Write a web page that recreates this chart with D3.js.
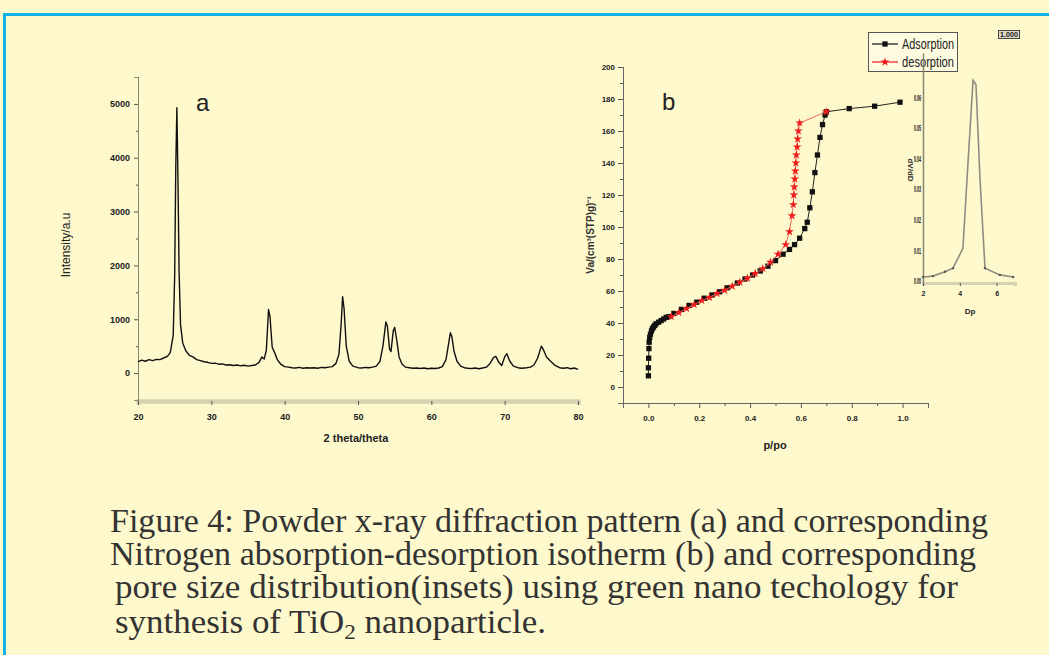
<!DOCTYPE html>
<html>
<head>
<meta charset="utf-8">
<script src="https://cdn.jsdelivr.net/npm/d3@7"></script>
<style>
  body { margin: 0; background: #fef9cc; }
  svg { display: block; }
</style>
</head>
<body>
<script>
// Figure 4: XRD pattern (a), N2 isotherm (b) and pore size inset

// --- data ---
const xrd = [
  [20.0, 210], [20.5, 240], [21.0, 220], [21.5, 250], [22.0, 230], [22.5, 255], [23.0, 250], [23.5, 280],
  [24.0, 310], [24.4, 380], [24.8, 700], [25.0, 1800], [25.15, 3800], [25.3, 4930], [25.45, 3600],
  [25.6, 1900], [25.8, 900], [26.1, 560], [26.5, 420], [27.0, 330], [27.5, 300], [28.0, 250], [28.5, 230],
  [29.0, 210], [29.5, 200], [30.0, 180], [30.5, 185], [31.0, 165], [31.5, 170], [32.0, 150], [32.5, 155],
  [33.0, 140], [33.5, 150], [34.0, 135], [34.5, 145], [35.0, 130], [35.5, 140], [36.0, 150], [36.5, 200],
  [36.9, 300], [37.2, 260], [37.5, 420], [37.8, 1180], [38.0, 1050], [38.3, 480], [38.6, 390], [39.0, 250],
  [39.5, 160], [40.0, 120], [40.5, 110], [41.0, 100], [41.5, 95], [42.0, 105], [42.5, 90], [43.0, 100],
  [43.5, 95], [44.0, 100], [44.5, 90], [45.0, 105], [45.5, 100], [46.0, 110], [46.5, 120], [47.0, 180],
  [47.4, 350], [47.7, 900], [47.9, 1420], [48.1, 1200], [48.4, 500], [48.8, 220], [49.3, 130], [50.0, 100],
  [50.5, 95], [51.0, 105], [51.5, 100], [52.0, 110], [52.5, 130], [53.0, 220], [53.4, 500], [53.8, 950],
  [54.0, 880], [54.3, 450], [54.5, 400], [54.8, 780], [55.0, 850], [55.3, 600], [55.6, 300], [56.0, 170],
  [56.5, 110], [57.0, 100], [57.5, 90], [58.0, 95], [58.5, 85], [59.0, 95], [59.5, 80], [60.0, 90],
  [60.5, 85], [61.0, 95], [61.5, 120], [62.0, 250], [62.3, 500], [62.6, 750], [62.8, 680], [63.1, 400],
  [63.5, 220], [64.0, 130], [64.5, 100], [65.0, 90], [65.5, 85], [66.0, 95], [66.5, 80], [67.0, 95],
  [67.5, 110], [68.0, 180], [68.5, 290], [68.8, 310], [69.2, 200], [69.6, 140], [70.0, 300], [70.3, 360],
  [70.7, 220], [71.2, 130], [71.8, 100], [72.3, 90], [73.0, 100], [73.5, 110], [74.0, 150], [74.5, 280],
  [75.0, 500], [75.3, 430], [75.7, 300], [76.2, 230], [76.8, 150], [77.5, 100], [78.0, 90], [78.5, 100],
  [79.0, 80], [79.5, 95], [80.0, 70]
];

const adsorption = [
  [0.0, 7], [0.0, 12], [0.001, 18], [0.002, 24], [0.003, 28], [0.005, 31], [0.008, 33], [0.012, 35],
  [0.016, 36.5], [0.02, 37.5], [0.025, 38.5], [0.03, 39.5], [0.04, 40.5], [0.05, 41.5], [0.06, 42.5],
  [0.07, 43.5], [0.08, 44], [0.1, 46], [0.13, 48.5], [0.16, 51], [0.19, 53], [0.22, 55.5], [0.25, 57.5],
  [0.28, 59.5], [0.31, 62], [0.35, 65], [0.38, 67.5], [0.41, 70], [0.44, 72.5], [0.47, 75.5], [0.5, 79],
  [0.53, 83], [0.555, 86], [0.575, 89], [0.595, 93], [0.615, 99], [0.625, 103], [0.635, 112], [0.645, 122],
  [0.655, 134], [0.665, 145], [0.675, 156], [0.685, 164], [0.695, 170], [0.7, 172], [0.79, 174],
  [0.89, 175.5], [0.99, 178]
];

const desorption = [
  [0.7, 172], [0.595, 165], [0.59, 160], [0.587, 155], [0.585, 150], [0.582, 145], [0.58, 140],
  [0.578, 135], [0.576, 130], [0.574, 125], [0.572, 120], [0.57, 114], [0.565, 107], [0.555, 97],
  [0.54, 89], [0.51, 83], [0.48, 78], [0.45, 74], [0.42, 71], [0.39, 68], [0.36, 65.5], [0.33, 63],
  [0.3, 60.5], [0.27, 58.5], [0.24, 56], [0.21, 54], [0.18, 51.5], [0.15, 49], [0.12, 46.5], [0.09, 44]
];

const poreSize = [
  [2.0, 0.0013], [2.54, 0.0016], [3.2, 0.003], [3.63, 0.0042], [4.17, 0.0107], [4.45, 0.039],
  [4.72, 0.0655], [4.88, 0.064], [5.1, 0.033], [5.37, 0.0042], [6.18, 0.002], [6.9, 0.0013]
];

const xrdXTicks = [20, 30, 40, 50, 60, 70, 80];
const xrdYTicks = [0, 1000, 2000, 3000, 4000, 5000];
const isoXTicks = [0.0, 0.2, 0.4, 0.6, 0.8, 1.0];
const isoYTicks = [0, 20, 40, 60, 80, 100, 120, 140, 160, 180, 200];
const insetXTicks = [2, 4, 6];
const insetYTicks = [0, 0.01, 0.02, 0.03, 0.04, 0.05, 0.06];
const legendLabels = ["Adsorption", "desorption"];

const caption = [
  "Figure 4: Powder x-ray diffraction pattern (a) and corresponding",
  "Nitrogen absorption-desorption isotherm (b) and corresponding",
  "pore size distribution(insets) using green nano techology for"
];

// --- drawing ---
const W = 1049, H = 655;
const svg = d3.select("body").append("svg").attr("width", W).attr("height", H);

svg.append("rect").attr("width", W).attr("height", H).attr("fill", "#fef9cc");
svg.append("rect")
  .attr("x", 4.5).attr("y", 14.5).attr("width", 1100).attr("height", 700)
  .attr("fill", "none").attr("stroke", "#14b1e7").attr("stroke-width", 3);

const tickFont = "Liberation Sans, Arial, sans-serif";

function styleAxis(g, color, width) {
  g.select(".domain").attr("stroke", color).attr("stroke-width", width);
  g.selectAll(".tick line").attr("stroke", "#555");
  g.selectAll(".tick text")
    .attr("fill", "#222").style("font-family", tickFont)
    .style("font-size", "9px").style("font-weight", "bold");
}

// ---------- panel a: XRD ----------
const xA = d3.scaleLinear().domain([20, 80]).range([138, 578]);
const yA = d3.scaleLinear().domain([-500, 5500]).range([400, 77]);

svg.append("g").attr("transform", "translate(0,401)")
  .call(d3.axisBottom(xA).tickValues(d3.range(25, 80, 10)).tickSize(2).tickFormat(""))
  .call(g => styleAxis(g, "#d6d1b0", 4));
svg.append("g").attr("transform", "translate(0,401)")
  .call(d3.axisBottom(xA).tickValues(xrdXTicks).tickSize(4).tickPadding(9).tickFormat(d3.format("d")))
  .call(g => styleAxis(g, "#d6d1b0", 4));

svg.append("g").attr("transform", "translate(138,0)")
  .call(d3.axisLeft(yA).tickValues(d3.range(-500, 5500, 1000)).tickSize(2).tickFormat(""))
  .call(g => styleAxis(g, "#8a8770", 1));
svg.append("g").attr("transform", "translate(138,0)")
  .call(d3.axisLeft(yA).tickValues(xrdYTicks).tickSize(4).tickPadding(4).tickFormat(d3.format("d")))
  .call(g => styleAxis(g, "#8a8770", 1));

svg.append("path")
  .datum(xrd)
  .attr("fill", "none").attr("stroke", "#111").attr("stroke-width", 1.4)
  .attr("stroke-linejoin", "round")
  .attr("d", d3.line().x(d => xA(d[0])).y(d => yA(d[1])));

svg.append("text").attr("x", 196).attr("y", 111)
  .style("font-family", tickFont).style("font-size", "24px").attr("fill", "#222").text("a");

svg.append("text").attr("x", 356).attr("y", 442).attr("text-anchor", "middle")
  .style("font-family", tickFont).style("font-size", "11px").style("font-weight", "bold")
  .attr("fill", "#222").text("2 theta/theta");

svg.append("text").attr("transform", "translate(70,245) rotate(-90)").attr("text-anchor", "middle")
  .style("font-family", tickFont).style("font-size", "12px")
  .attr("fill", "#222").text("Intensity/a.u");

// ---------- panel b: isotherm ----------
const xB = d3.scaleLinear().domain([-0.1, 1.1]).range([623, 928]);
const yB = d3.scaleLinear().domain([-10, 200]).range([403, 67]);

svg.append("g").attr("transform", "translate(0,403)")
  .call(d3.axisBottom(xB).tickValues(d3.range(-0.1, 1.15, 0.2)).tickSize(3).tickFormat(""))
  .call(g => styleAxis(g, "#666", 1));
svg.append("g").attr("transform", "translate(0,403)")
  .call(d3.axisBottom(xB).tickValues(isoXTicks).tickSize(5).tickPadding(7).tickFormat(d3.format(".1f")))
  .call(g => styleAxis(g, "#666", 1))
  .call(g => g.selectAll(".tick text").style("font-size", "8px"));

svg.append("g").attr("transform", "translate(623,0)")
  .call(d3.axisLeft(yB).tickValues(d3.range(-10, 200, 20)).tickSize(3).tickFormat(""))
  .call(g => styleAxis(g, "#666", 1));
svg.append("g").attr("transform", "translate(623,0)")
  .call(d3.axisLeft(yB).tickValues(isoYTicks).tickSize(5).tickPadding(3))
  .call(g => styleAxis(g, "#666", 1))
  .call(g => g.selectAll(".tick text").style("font-size", "8px"));

const lineB = d3.line().x(d => xB(d[0])).y(d => yB(d[1]));
const star = d3.symbol().type(d3.symbolStar).size(24);
const square = d3.symbol().type(d3.symbolSquare).size(28);

svg.append("path").datum(adsorption)
  .attr("fill", "none").attr("stroke", "#222").attr("stroke-width", 1).attr("d", lineB);
svg.append("g").selectAll("path").data(adsorption).join("path")
  .attr("transform", d => `translate(${xB(d[0])},${yB(d[1])})`)
  .attr("d", square).attr("fill", "#111");

svg.append("path").datum(desorption)
  .attr("fill", "none").attr("stroke", "#ec6a64").attr("stroke-width", 1).attr("d", lineB);
svg.append("g").selectAll("path").data(desorption).join("path")
  .attr("transform", d => `translate(${xB(d[0])},${yB(d[1])})`)
  .attr("d", star).attr("fill", "#ee1c1c");

svg.append("text").attr("x", 662).attr("y", 110)
  .style("font-family", tickFont).style("font-size", "24px").attr("fill", "#222").text("b");

svg.append("text").attr("x", 775).attr("y", 449).attr("text-anchor", "middle")
  .style("font-family", tickFont).style("font-size", "11px").style("font-weight", "bold")
  .attr("fill", "#222").text("p/po");

svg.append("text").attr("transform", "translate(594,235) rotate(-90)").attr("text-anchor", "middle")
  .style("font-family", tickFont).style("font-size", "10px").style("font-weight", "bold")
  .attr("fill", "#333").text("Va/(cm³(STP)g)⁻¹");

// legend
const legend = svg.append("g");
legend.append("rect").attr("x", 868.5).attr("y", 32.5).attr("width", 89).attr("height", 39)
  .attr("fill", "#fffbe0").attr("stroke", "#555");
legendLabels.forEach((label, i) => {
  const y = 44 + i * 18;
  const col = i === 0 ? "#111" : "#ee1c1c";
  legend.append("line").attr("x1", 872).attr("x2", 898).attr("y1", y).attr("y2", y)
    .attr("stroke", col).attr("stroke-width", 1.2);
  legend.append("path").attr("transform", `translate(885,${y})`)
    .attr("d", i === 0 ? square : star).attr("fill", col);
  legend.append("text").attr("x", 902).attr("y", y + 5)
    .attr("textLength", 52).attr("lengthAdjust", "spacingAndGlyphs")
    .style("font-family", tickFont).style("font-size", "14px").attr("fill", "#222").text(label);
});

// ---------- inset: pore size distribution ----------
const xI = d3.scaleLinear().domain([2, 7]).range([923, 1015]);
const yI = d3.scaleLinear().domain([-0.00065, 0.0744]).range([283, 53]);

svg.append("g").attr("transform", "translate(0,283)")
  .call(d3.axisBottom(xI).tickValues([3, 5, 7]).tickSize(2).tickFormat(""))
  .call(g => styleAxis(g, "#d6d1b0", 3));
svg.append("g").attr("transform", "translate(0,283)")
  .call(d3.axisBottom(xI).tickValues(insetXTicks).tickSize(3).tickPadding(5).tickFormat(d3.format("d")))
  .call(g => styleAxis(g, "#d6d1b0", 3))
  .call(g => g.selectAll(".tick text").style("font-size", "7px"));

svg.append("g").attr("transform", "translate(923,0)")
  .call(d3.axisLeft(yI).tickValues(insetYTicks).tickSize(0).tickPadding(2).tickFormat(d3.format(".2f")))
  .call(g => styleAxis(g, "#8a8770", 1.5))
  .call(g => g.selectAll(".tick text")
    .attr("textLength", 7).attr("lengthAdjust", "spacingAndGlyphs")
    .style("font-size", "9px").style("font-weight", "900").attr("fill", "#111"));

svg.append("path").datum(poreSize)
  .attr("fill", "none").attr("stroke", "#8e8c80").attr("stroke-width", 1.6)
  .attr("d", d3.line().x(d => xI(d[0])).y(d => yI(d[1])));
svg.append("g").selectAll("circle").data(poreSize.filter(d => d[1] < 0.005)).join("circle")
  .attr("cx", d => xI(d[0])).attr("cy", d => yI(d[1])).attr("r", 1.2).attr("fill", "#555");

svg.append("text").attr("transform", "translate(908,170) rotate(90)").attr("text-anchor", "middle")
  .style("font-family", tickFont).style("font-size", "8px").style("font-weight", "bold")
  .attr("fill", "#333").text("dV/dD");

svg.append("text").attr("x", 970).attr("y", 314).attr("text-anchor", "middle")
  .style("font-family", tickFont).style("font-size", "8px").style("font-weight", "bold")
  .attr("fill", "#222").text("Dp");

svg.append("rect").attr("x", 998.5).attr("y", 30.5).attr("width", 21).attr("height", 8)
  .attr("fill", "#ddd9c4").attr("stroke", "#444");
svg.append("text").attr("x", 1000).attr("y", 37).attr("textLength", 18).attr("lengthAdjust", "spacingAndGlyphs")
  .style("font-family", tickFont).style("font-size", "7px").style("font-weight", "bold")
  .attr("fill", "#222").text("1.000");

// ---------- caption ----------
const capFont = "Liberation Serif, 'DejaVu Serif', serif";
const capLines = [
  { x: 110, y: 532, w: 878, text: caption[0] },
  { x: 110, y: 565, w: 866, text: caption[1] },
  { x: 115, y: 598, w: 843, text: caption[2] }
];
capLines.forEach(l => {
  svg.append("text").attr("x", l.x).attr("y", l.y)
    .attr("textLength", l.w).attr("lengthAdjust", "spacingAndGlyphs")
    .style("font-family", capFont).style("font-size", "33px").attr("fill", "#333")
    .text(l.text);
});
const last = svg.append("text").attr("x", 115).attr("y", 633)
  .attr("textLength", 431).attr("lengthAdjust", "spacingAndGlyphs")
  .style("font-family", capFont).style("font-size", "33px").attr("fill", "#333");
last.append("tspan").text("synthesis of TiO");
last.append("tspan").attr("dy", 6).style("font-size", "22px").text("2");
last.append("tspan").attr("dy", -6).text(" nanoparticle.");
</script>
</body>
</html>
